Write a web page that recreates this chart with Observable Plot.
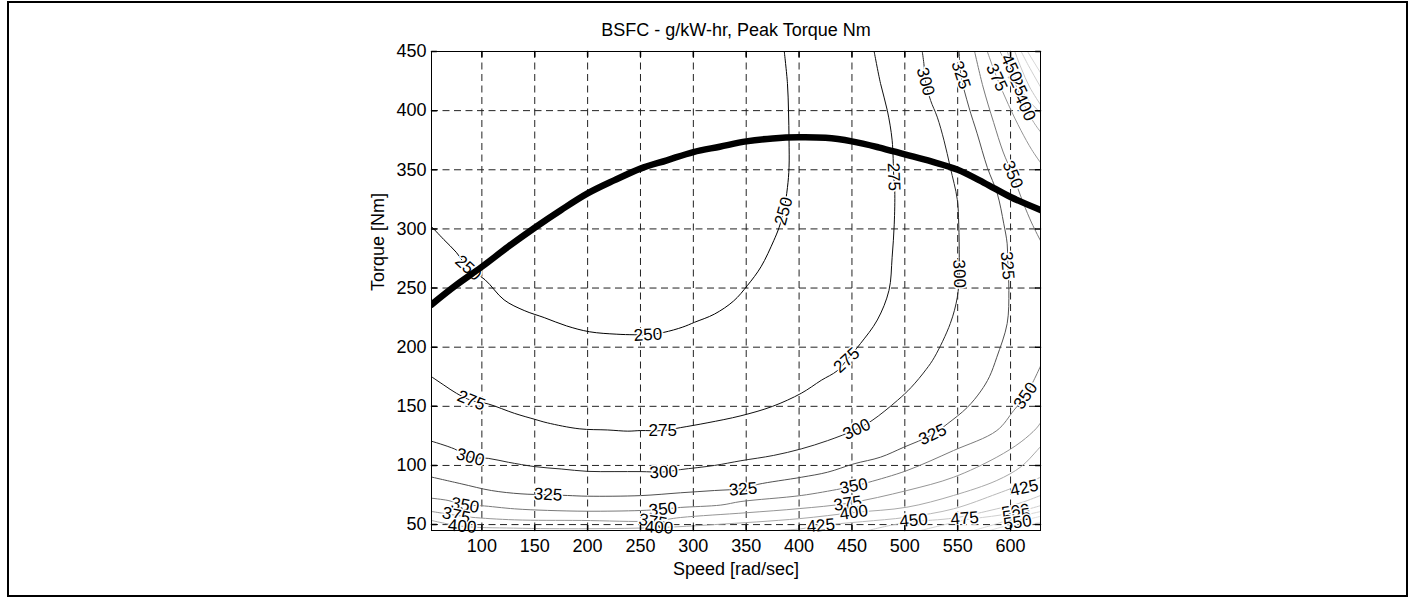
<!DOCTYPE html>
<html><head><meta charset="utf-8">
<script src="https://cdn.jsdelivr.net/npm/d3@7"></script>
<script src="https://cdn.jsdelivr.net/npm/@observablehq/plot@0.6"></script>
<style>
html,body{margin:0;padding:0;background:#fff;}
#wrap{position:relative;width:1416px;height:599px;overflow:hidden;background:#fff;}
#chart{position:absolute;left:0;top:0;}
#border{position:absolute;left:7px;top:1px;width:1401px;height:596px;border:2px solid #000;box-sizing:border-box;pointer-events:none;}
</style></head>
<body><div id="wrap"><div id="chart"></div><div id="border"></div></div>
<script>
// ---------- text ----------
const title = "BSFC - g/kW-hr, Peak Torque Nm";
const xLabel = "Speed [rad/sec]";
const yLabel = "Torque [Nm]";

// ---------- axes ----------
const xDomain = [52.36, 628.32];
const yDomain = [45, 450];
const xTicks = [100, 150, 200, 250, 300, 350, 400, 450, 500, 550, 600];
const yTicks = [50, 100, 150, 200, 250, 300, 350, 400, 450];

// ---------- peak torque curve ----------
const torqueSpeed = [52.36, 75, 100, 125, 150, 175, 200, 225, 250, 275, 300, 325, 350, 375, 400, 425, 450, 475, 500, 525, 550, 575, 600, 628.32];
const torquePeak  = [236, 252, 268, 285, 301, 316, 330, 341, 351, 358, 365, 369.5, 374, 376.5, 377.5, 377, 374, 369, 363, 357, 350, 339, 327, 316];

// ---------- BSFC contour lines [speed, torque] ----------
const c250 = [[52.36,302],[64,291],[75.7,280.3],[87,267],[103,257],[121,240],[140,231],[159,225],[180,218],[202,213],[227,211],[244,210.5],[257,210.5],[272,212.5],[290,217],[301,221],[320,228],[338,239],[351,252],[364,268],[376,290],[381,301],[385.5,315],[389,335],[390.5,352],[390.5,375],[390,400],[389,423],[386,450]];
const c275 = [[52.36,175],[64,168],[76,161],[90,155],[106,152],[131,144],[150,139],[162,136],[192,131],[219,130],[238,129],[250,129.5],[271,129.5],[288,132],[313,136],[345,142],[375,150],[402,161],[421,172],[436,180],[445,189],[458,203],[474,223],[485,248],[488,276],[490,304],[490.5,332],[489.5,345],[488,375],[483.5,400],[477,423],[471,450]];
const c300 = [[52.36,120.5],[74,114],[89,107],[106,106],[125,102.7],[150,99],[175,97],[200,95],[225,94.8],[250,94.8],[272,94.5],[288,96.5],[320,100],[345,104],[376,108.5],[402,114],[427,121],[454,130.5],[469,138],[493,155],[506,166],[520,181],[528,191.5],[543,220],[549.6,242],[551.5,262],[551.5,276],[551,304],[549.6,325],[543,352],[537,375],[530.7,394.5],[524.4,408.6],[519.6,424.6],[518,440],[516.5,450]];
const c325 = [[52.36,90.2],[80.4,84.5],[109,78.8],[137,76],[162.6,75.2],[181,74.6],[200,74],[250,74.5],[288,76.9],[320,78.8],[347,80.5],[361,84],[402,90],[427,94.3],[452,101.4],[477,107],[499,115.4],[526,126],[540,135],[559,149],[572,163],[580,175],[587,191.5],[596.8,220],[598.4,248],[597.5,269],[596.8,287.4],[593.6,304.3],[587.4,330],[578,352],[568.5,380.4],[560.6,403],[553,430],[551.5,450]];
const c350low = [[52.36,72.3],[68,70.4],[84,66.5],[99,66],[131,63.3],[162,62],[200,61.3],[250,61.9],[271,63],[288,64.5],[326,66.5],[345,69.5],[402,74.6],[439,80.2],[452,82.5],[466,85.8],[502,95.7],[546,112.6],[587,129.5],[603,146.5],[614,159],[622,172],[628.32,184]];
const c350top = [[566,450],[574,420],[584,390],[593,365],[602,346],[612,322],[620,305],[628.32,290]];
const c375low = [[52.36,61.1],[76,57.8],[90,56.2],[131,54],[194,53.5],[262,53],[288,56],[350,60],[400,63.5],[446,68],[502,78.8],[546,90],[587,107],[610,120],[624,131],[628.32,136]];
const c375top = [[578,450],[587,428],[598,405],[610,383],[620,367],[628.32,356]];
const c400low = [[52.36,53.5],[81,48.6],[130,47],[200,46.5],[268,47.5],[320,50],[400,55],[452,60.2],[502,64.7],[546,74.6],[587,87.3],[610,99],[625,112.6],[628.32,116]];
const c400top = [[590,450],[600,432],[614,403],[622,390],[628.32,382]];
const c425low = [[380,45],[401.6,46.4],[420.6,49.2],[460,52.5],[502,56.2],[546,63.3],[587,76],[602,81],[615,85],[628.32,90]];
const c425top = [[597,450],[606,424],[616,410],[628.32,398]];
const c450low = [[465,45],[490,50],[508,52.5],[546,55.5],[587,63.3],[610,68.5],[628.32,74.6]];
const c450top = [[604,450],[610,436],[618,420],[628.32,405]];
const c475low = [[515,45],[540,50.5],[557,54],[590,58],[610,61.5],[628.32,66]];
const c475top = [[610,450],[617,438],[628.32,420]];
const c500low = [[565,45],[588,51],[605,56],[628.32,61]];
const c500top = [[616,450],[628.32,432]];
const c525low = [[580,45],[600,50],[615,54],[628.32,57]];
const c550low = [[592,45],[610,48.5],[628.32,52]];

// ---------- contour labels ----------
const labelLevel  = [250, 250, 250, 275, 275, 275, 275, 300, 300, 300, 300, 300, 325, 325, 325, 325, 325, 350, 350, 350, 350, 350, 375, 375, 375, 375, 400, 400, 400, 400, 425, 425, 425, 450, 450, 475, 500, 525, 550];
const labelSpeed  = [87, 257, 385.5, 90, 271, 445, 489.5, 89, 272, 454.5, 551.5, 519.6, 162.6, 347, 526.3, 597, 553, 84.2, 271.2, 451.7, 614.2, 602, 75.7, 261.8, 446, 587, 81.4, 267.6, 451.7, 613.6, 420.6, 613, 605.6, 508.3, 600.9, 556.6, 604.8, 605.7, 606.6];
const labelTorque = [267, 210.5, 315, 155, 129.5, 189, 344, 107, 94.5, 130.5, 262, 424.6, 75.4, 80, 126.2, 269, 430, 66.3, 63, 82.5, 159, 346, 57.7, 52.5, 67.8, 428, 48.5, 47.5, 60.2, 403, 49.2, 81, 424, 53.5, 436, 55.2, 61.1, 57.5, 51.8];
const labelRotate = [42, -3, -75, 22, 0, -42, 88, 15, -3, -25, 88, 75, 3, -5, -25, 85, 72, 10, -5, -10, -55, 68, 12, 10, -8, 65, 5, 3, -8, 65, -5, -12, 65, -5, 65, -5, -8, -8, -8];

// ---------- styles ----------
const branches = [
  [250, c250], [275, c275], [300, c300], [325, c325],
  [350, c350low], [350, c350top], [375, c375low], [375, c375top],
  [400, c400low], [400, c400top], [425, c425low], [425, c425top],
  [450, c450low], [450, c450top], [475, c475low], [475, c475top],
  [500, c500low], [500, c500top], [525, c525low], [550, c550low]
];
const levelGray = {250: "#000000", 275: "#0f0f0f", 300: "#282828", 325: "#505050", 350: "#7a7a7a", 375: "#969696", 400: "#a8a8a8", 425: "#b9b9b9", 450: "#c6c6c6", 475: "#d0d0d0", 500: "#d8d8d8", 525: "#dedede", 550: "#e4e4e4"};
const FONT = "'Liberation Sans', Arial, Helvetica, sans-serif";
const tickShape = {draw(context, l) { context.moveTo(0, 0); context.lineTo(0, -l); }};

const labelIdx = labelLevel.map((_, i) => i);
const torqueIdx = torqueSpeed.map((_, i) => i);

const plot = Plot.plot({
  width: 1416,
  height: 599,
  marginLeft: 431,
  marginRight: 376,
  marginTop: 51,
  marginBottom: 69,
  style: {fontFamily: FONT, fontSize: "18px", background: "transparent", color: "#000"},
  x: {domain: xDomain, label: null},
  y: {domain: yDomain, label: null},
  marks: [
    // dashed grid
    Plot.ruleX(xTicks, {x: d => d, stroke: "#222", strokeWidth: 1, strokeDasharray: "7,4.5", strokeOpacity: 1}),
    Plot.ruleY(yTicks, {y: d => d, stroke: "#222", strokeWidth: 1, strokeDasharray: "7,4.5", strokeOpacity: 1}),
    // contour lines
    ...branches.map(([lvl, pts]) => Plot.line(pts, {
      x: d => d[0], y: d => d[1], stroke: levelGray[lvl], strokeWidth: 1, curve: "catmull-rom", clip: true
    })),
    // contour labels
    Plot.text(labelIdx, {
      x: i => labelSpeed[i], y: i => labelTorque[i], text: i => String(labelLevel[i]),
      rotate: i => labelRotate[i], fontSize: 17, fill: "#000",
      stroke: "#fff", strokeWidth: 3, paintOrder: "stroke"
    }),
    // peak torque curve
    Plot.line(torqueIdx, {x: i => torqueSpeed[i], y: i => torquePeak[i], stroke: "#000", strokeWidth: 6.5, curve: "catmull-rom", clip: true}),
    // frame and inward ticks
    Plot.frame({stroke: "#000", strokeWidth: 1}),
    Plot.vector(xTicks, {x: d => d, y: yDomain[0], length: 5, rotate: 0, anchor: "start", shape: tickShape, stroke: "#000"}),
    Plot.vector(xTicks, {x: d => d, y: yDomain[1], length: 5, rotate: 180, anchor: "start", shape: tickShape, stroke: "#000"}),
    Plot.vector(yTicks, {y: d => d, x: xDomain[0], length: 5, rotate: 90, anchor: "start", shape: tickShape, stroke: "#000"}),
    Plot.vector(yTicks, {y: d => d, x: xDomain[1], length: 5, rotate: -90, anchor: "start", shape: tickShape, stroke: "#000"}),
    // axes tick labels
    Plot.axisX(xTicks, {tickSize: 0, tickPadding: 9, fontSize: 18, label: null}),
    Plot.axisY(yTicks, {tickSize: 0, tickPadding: 5, fontSize: 18, label: null}),
    // title and axis titles
    Plot.text([title], {frameAnchor: "top", lineAnchor: "bottom", dy: -16, fontSize: 18, fill: "#000"}),
    Plot.text([xLabel], {frameAnchor: "bottom", lineAnchor: "top", dy: 32, fontSize: 18, fill: "#000"}),
    Plot.text([yLabel], {frameAnchor: "left", rotate: -90, dx: -53, fontSize: 18, fill: "#000"})
  ]
});
document.getElementById("chart").appendChild(plot);
</script>
</body></html>
